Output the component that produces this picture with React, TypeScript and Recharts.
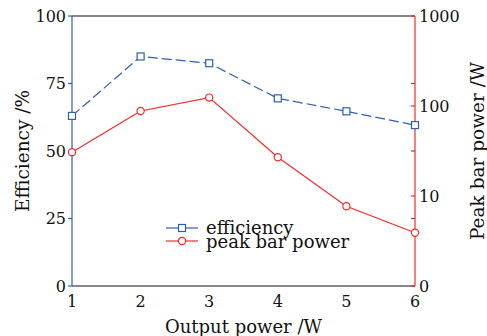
import { ComposedChart, Line, XAxis, YAxis, Legend, ReferenceLine } from 'recharts';

const outputPower = [1, 2, 3, 4, 5, 6];
const efficiency = [63, 85, 82.5, 69.5, 64.7, 59.6];
const peakBarPower = [30.6, 88, 124, 26.9, 7.7, 3.9];
const effTicks = [0, 25, 50, 75, 100];
const powerTicks = [1, 10, 100, 1000];
const mirrorTicks = [25, 50, 75];

const BLUE = '#2d5fb4';
const RED = '#f72a2a';
const FONT = '"DejaVu Serif", serif';

const data = outputPower.map((x, i) => ({ x, eff: efficiency[i], peak: peakBarPower[i] }));

// right axis ticks point inward, labels outside
function PowerTick(props: any) {
  const { x, y, payload } = props;
  return (
    <g>
      <line x1={x - 4} y1={y} x2={x} y2={y} stroke={RED} strokeWidth={1.2} />
      <text x={x + 4} y={y} dy={6} fontSize={16} fontFamily={FONT} fill="#111" textAnchor="start">
        {payload.value === 1 ? '0' : payload.value}
      </text>
    </g>
  );
}

// blue efficiency ticks repeated inside the right edge
function MirrorTick(props: any) {
  const { x2, y2 } = props;
  return <line x1={x2 - 4} y1={y2} x2={x2} y2={y2} stroke={BLUE} strokeWidth={1.2} />;
}

function SquareDot(props: any) {
  const { cx, cy, index } = props;
  return <rect key={index} x={cx - 3.5} y={cy - 3.5} width={7} height={7} fill="#fff" stroke={BLUE} strokeWidth={1.2} />;
}

function CircleDot(props: any) {
  const { cx, cy, index } = props;
  return <circle key={index} cx={cx} cy={cy} r={3.6} fill="#fff" stroke={RED} strokeWidth={1.2} />;
}

function LegendBox() {
  const rows = [
    { name: 'efficiency', color: BLUE, shape: 'square' },
    { name: 'peak bar power', color: RED, shape: 'circle' },
  ];
  return (
    <div style={{ fontFamily: FONT, fontSize: 18, color: '#111', lineHeight: '13.5px' }}>
      {rows.map((r) => (
        <div key={r.name} style={{ display: 'flex', alignItems: 'center', height: 13.5 }}>
          <svg width={41} height={14}>
            <line x1={1} y1={7} x2={33} y2={7} stroke={r.color} strokeWidth={1.2} />
            {r.shape === 'square' ? (
              <rect x={13.5} y={3.5} width={7} height={7} fill="#fff" stroke={r.color} strokeWidth={1.2} />
            ) : (
              <circle cx={17} cy={7} r={3.6} fill="#fff" stroke={r.color} strokeWidth={1.2} />
            )}
          </svg>
          <span>{r.name}</span>
        </div>
      ))}
    </div>
  );
}

export default function App() {
  return (
    <div style={{ position: 'absolute', left: 0, top: 0, background: '#fff' }}>
      <ComposedChart width={487} height={336} data={data} margin={{ top: 16, right: 0, bottom: 0, left: 0 }}>
        <XAxis
          dataKey="x"
          type="number"
          domain={[1, 6]}
          ticks={outputPower}
          height={50}
          axisLine={{ stroke: '#111', strokeWidth: 1.2 }}
          tickLine={false}
          tickMargin={4}
          tick={{ fontSize: 16, fontFamily: FONT, fill: '#111' }}
          label={{ value: 'Output power /W', position: 'insideBottom', offset: 3, fontSize: 18, fontFamily: FONT, fill: '#111' }}
        />
        <YAxis
          yAxisId="left"
          width={72}
          domain={[0, 100]}
          ticks={effTicks}
          axisLine={{ stroke: BLUE, strokeWidth: 1.2 }}
          tickLine={{ stroke: BLUE, strokeWidth: 1.2 }}
          tickSize={4}
          tickMargin={2}
          tick={{ fontSize: 16, fontFamily: FONT, fill: '#111' }}
          label={{ value: 'Efficiency /%', angle: -90, position: 'center', dx: -14, fontSize: 18.5, fontFamily: FONT, fill: '#111' }}
        />
        <YAxis
          yAxisId="right"
          orientation="right"
          width={72}
          scale="log"
          domain={[1, 1000]}
          ticks={powerTicks}
          allowDataOverflow
          axisLine={{ stroke: RED, strokeWidth: 1.2 }}
          tickLine={false}
          tickSize={0}
          tickMargin={0}
          tick={<PowerTick />}
          label={{ value: 'Peak bar power /W', angle: -90, position: 'center', dx: 26, fontSize: 18.5, fontFamily: FONT, fill: '#111' }}
        />
        <ReferenceLine yAxisId="left" y={100} stroke="#111" strokeWidth={1.2} />
        {mirrorTicks.map((t) => (
          <ReferenceLine key={t} yAxisId="left" y={t} shape={<MirrorTick />} />
        ))}
        <Legend
          layout="vertical"
          align="center"
          verticalAlign="middle"
          content={<LegendBox />}
          wrapperStyle={{ position: 'absolute', left: 165, top: 221, width: 'auto' }}
        />
        <Line
          yAxisId="left"
          dataKey="eff"
          stroke={BLUE}
          strokeWidth={1.2}
          strokeDasharray="10 4"
          dot={SquareDot}
          isAnimationActive={false}
        />
        <Line
          yAxisId="right"
          dataKey="peak"
          stroke={RED}
          strokeWidth={1.2}
          dot={CircleDot}
          isAnimationActive={false}
        />
      </ComposedChart>
    </div>
  );
}
